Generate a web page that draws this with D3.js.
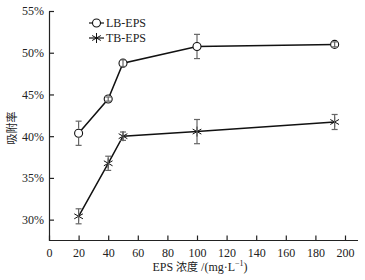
<!DOCTYPE html>
<html>
<head>
<meta charset="utf-8">
<script src="https://cdn.jsdelivr.net/npm/d3@7"></script>
<style>
  body { margin: 0; background: #fff; }
  text { font-family: "Liberation Serif", "Times New Roman", serif; fill: #222; }
</style>
</head>
<body>
<div id="chart"></div>
<script>
// data
var conc = [20, 40, 50, 100, 193];
var lbMean = [40.35, 44.45, 48.75, 50.75, 51.0];
var lbErr = [1.45, 0.25, 0.4, 1.45, 0.3];
var tbMean = [30.4, 36.75, 40.0, 40.55, 41.7];
var tbErr = [0.9, 0.85, 0.5, 1.45, 0.9];
var xTicks = [0, 20, 40, 60, 80, 100, 120, 140, 160, 180, 200];
var yTicks = [30, 35, 40, 45, 50, 55];
var seriesNames = ["LB-EPS", "TB-EPS"];

var W = 365, H = 280;
var svg = d3.select("#chart").append("svg")
  .attr("width", W).attr("height", H);

var x = d3.scaleLinear().domain([0, 200]).range([49, 345]);
var y = d3.scaleLinear().domain([27.5, 55]).range([240.5, 11]);

// axes (ticks point inward)
var gx = svg.append("g").attr("transform", "translate(0," + y(27.5) + ")")
  .call(d3.axisBottom(x).tickValues(xTicks).tickSize(-5).tickPadding(8).tickSizeOuter(0));
gx.select(".domain").attr("d", "M" + x(0) + ",0H358");
var gy = svg.append("g").attr("transform", "translate(" + x(0) + ",0)")
  .call(d3.axisLeft(y).tickValues(yTicks).tickSize(-5).tickPadding(5).tickSizeOuter(0)
    .tickFormat(function(d) { return d + "%"; }));
svg.selectAll(".domain").attr("stroke", "#222").attr("stroke-width", 1.2);
svg.selectAll(".tick line").attr("stroke", "#222").attr("stroke-width", 1.2);
svg.selectAll(".tick text").style("font-size", "12px")
  .style("font-family", "'Liberation Serif', serif").attr("fill", "#333");

// axis titles
svg.append("text")
  .attr("transform", "translate(16," + 128 + ") rotate(-90)")
  .attr("text-anchor", "middle")
  .style("font-size", "11px")
  .style("font-family", "'Noto Sans CJK SC', serif")
  .text("吸附率");
var xt = svg.append("text")
  .attr("x", 200).attr("y", 271)
  .attr("text-anchor", "middle")
  .style("font-size", "12px");
xt.append("tspan").text("EPS ");
xt.append("tspan").style("font-family", "'Noto Sans CJK SC', serif").style("font-size", "11px").text("浓度");
xt.append("tspan").text(" /(mg·L");
xt.append("tspan").attr("dy", -5).style("font-size", "8px").text("−1");
xt.append("tspan").attr("dy", 5).text(")");

function pts(means, errs) {
  return conc.map(function(c, i) { return {x: c, y: means[i], e: errs[i]}; });
}
var lb = pts(lbMean, lbErr), tb = pts(tbMean, tbErr);

var line = d3.line().x(function(d) { return x(d.x); }).y(function(d) { return y(d.y); });

svg.append("path").datum(lb).attr("d", line)
  .attr("fill", "none").attr("stroke", "#111").attr("stroke-width", 1.5);
svg.append("path").datum(tb).attr("d", line)
  .attr("fill", "none").attr("stroke", "#111").attr("stroke-width", 1.5);

function circleMark(g, cx, cy) {
  g.append("circle").attr("cx", cx).attr("cy", cy).attr("r", 4)
    .attr("fill", "#fff").attr("stroke", "#111").attr("stroke-width", 1.1);
}
function starMark(g, cx, cy) {
  var r = 5;
  g.append("path")
    .attr("d", "M" + cx + "," + (cy - r) + "V" + (cy + r) +
      "M" + (cx - r * 0.87) + "," + (cy - r * 0.5) + "L" + (cx + r * 0.87) + "," + (cy + r * 0.5) +
      "M" + (cx - r * 0.87) + "," + (cy + r * 0.5) + "L" + (cx + r * 0.87) + "," + (cy - r * 0.5))
    .attr("stroke", "#111").attr("stroke-width", 1).attr("fill", "none");
}

var mk = svg.append("g");
lb.forEach(function(d) { circleMark(mk, x(d.x), y(d.y)); });
tb.forEach(function(d) { starMark(mk, x(d.x), y(d.y)); });

// error bars on top of the markers; the stem is hidden inside an open circle
// unless the whole bar fits inside it
function errorBars(data, hole) {
  var g = svg.append("g").attr("stroke", "#666").attr("stroke-width", 1.2);
  data.forEach(function(d) {
    var cx = x(d.x), cy = y(d.y), top = y(d.y + d.e), bot = y(d.y - d.e);
    if (cy - top > hole) {
      g.append("line").attr("x1", cx).attr("x2", cx).attr("y1", top).attr("y2", cy - hole);
      g.append("line").attr("x1", cx).attr("x2", cx).attr("y1", cy + hole).attr("y2", bot);
    } else {
      g.append("line").attr("x1", cx).attr("x2", cx).attr("y1", top).attr("y2", bot);
    }
    g.append("line").attr("x1", cx - 3).attr("x2", cx + 3).attr("y1", bot).attr("y2", bot);
    g.append("line").attr("x1", cx - 3).attr("x2", cx + 3).attr("y1", top).attr("y2", top);
  });
}
errorBars(lb, 4.5);
errorBars(tb, 0);

// legend
var lg = svg.append("g");
[23, 38].forEach(function(ly, i) {
  lg.append("line").attr("x1", 89).attr("x2", 104).attr("y1", ly).attr("y2", ly)
    .attr("stroke", "#111").attr("stroke-width", 1.2);
  if (i === 0) circleMark(lg, 96.5, ly); else starMark(lg, 96.5, ly);
  lg.append("text").attr("x", 106).attr("y", ly + 4)
    .style("font-size", "12px").text(seriesNames[i]);
});
</script>
</body>
</html>
